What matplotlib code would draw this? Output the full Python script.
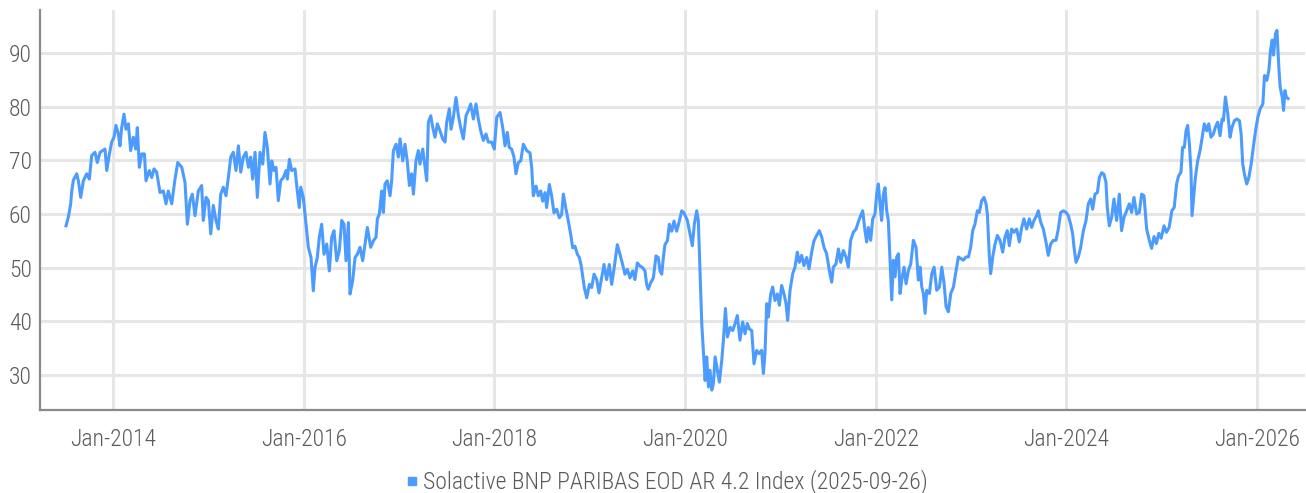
# %% 1.0 Libraries and data

import matplotlib
matplotlib.use('Agg')
import matplotlib.pyplot as plt
from matplotlib.lines import Line2D

plt.rcParams['font.family'] = ['Roboto Condensed', 'Roboto', 'DejaVu Sans']
plt.rcParams['font.weight'] = 'light'

series_name = 'Solactive BNP PARIBAS EOD AR 4.2 Index (2025-09-26)'
tick_years = [2014, 2016, 2018, 2020, 2022, 2024, 2026]
tick_labels = ['Jan-' + str(y) for y in tick_years]
y_ticks = [30, 40, 50, 60, 70, 80, 90]

# decimal year / index level
t_year = [
    2013.507, 2013.531, 2013.556, 2013.567, 2013.584, 2013.619, 2013.636, 2013.661, 2013.689, 2013.724,
    2013.752, 2013.776, 2013.811, 2013.835, 2013.864, 2013.898, 2013.916, 2013.934, 2013.962, 2013.986,
    2014.010, 2014.031, 2014.056, 2014.073, 2014.091, 2014.115, 2014.136, 2014.161, 2014.185, 2014.213,
    2014.238, 2014.255, 2014.276, 2014.301, 2014.329, 2014.346, 2014.381, 2014.406, 2014.430, 2014.458,
    2014.493, 2014.528, 2014.556, 2014.580, 2014.616, 2014.650, 2014.679, 2014.721, 2014.755, 2014.780,
    2014.808, 2014.832, 2014.860, 2014.895, 2014.930,
    2014.947, 2014.976, 2015.000, 2015.025, 2015.052, 2015.080, 2015.105, 2015.130, 2015.157, 2015.185,
    2015.210, 2015.235, 2015.262, 2015.290, 2015.315, 2015.340, 2015.367, 2015.395, 2015.420, 2015.444,
    2015.465, 2015.490, 2015.514, 2015.542, 2015.570, 2015.594, 2015.619, 2015.647, 2015.665, 2015.689,
    2015.710, 2015.734, 2015.759, 2015.787, 2015.815, 2015.829, 2015.850, 2015.874, 2015.909, 2015.933,
    2015.954, 2015.969, 2015.996, 2016.025, 2016.049, 2016.077, 2016.101, 2016.119, 2016.143, 2016.164,
    2016.189, 2016.213, 2016.242, 2016.269, 2016.294, 2016.318, 2016.347, 2016.374, 2016.399, 2016.423,
    2016.444, 2016.469, 2016.486, 2016.514, 2016.539, 2016.563, 2016.591, 2016.619, 2016.643, 2016.668,
    2016.703, 2016.731, 2016.759, 2016.773, 2016.794, 2016.818, 2016.836, 2016.853, 2016.877, 2016.906,
    2016.923, 2016.941, 2016.969, 2016.993, 2017.011, 2017.039, 2017.063, 2017.088, 2017.109, 2017.133,
    2017.151, 2017.178, 2017.203, 2017.220, 2017.249, 2017.273, 2017.291, 2017.308, 2017.333, 2017.354,
    2017.378, 2017.402, 2017.430, 2017.458, 2017.483, 2017.500, 2017.528, 2017.546, 2017.570, 2017.598,
    2017.623, 2017.647, 2017.675, 2017.703, 2017.728, 2017.752, 2017.780, 2017.808, 2017.832, 2017.857,
    2017.885, 2017.913, 2017.937, 2017.972, 2018.000, 2018.025, 2018.060, 2018.088, 2018.112, 2018.136,
    2018.157, 2018.182, 2018.206, 2018.227, 2018.252, 2018.277, 2018.304, 2018.340,
    2018.374, 2018.392, 2018.409, 2018.437, 2018.461, 2018.486, 2018.507, 2018.532, 2018.549, 2018.577,
    2018.601, 2018.626, 2018.654, 2018.682, 2018.706, 2018.724, 2018.752, 2018.776, 2018.801, 2018.822,
    2018.846, 2018.871, 2018.892, 2018.909, 2018.927, 2018.944, 2018.969, 2018.997, 2019.021, 2019.046,
    2019.074, 2019.098, 2019.126, 2019.150, 2019.178, 2019.206, 2019.231, 2019.255, 2019.290, 2019.318,
    2019.346, 2019.370, 2019.395, 2019.423, 2019.451, 2019.475, 2019.500, 2019.528, 2019.556, 2019.580,
    2019.598, 2019.615, 2019.640, 2019.668, 2019.696, 2019.720, 2019.738, 2019.756, 2019.773, 2019.790,
    2019.815, 2019.836, 2019.861, 2019.885, 2019.913, 2019.941, 2019.966, 2019.990,
    2020.025, 2020.053, 2020.077, 2020.098, 2020.123, 2020.140, 2020.158, 2020.176, 2020.193, 2020.211,
    2020.228, 2020.246, 2020.263, 2020.281, 2020.298, 2020.316, 2020.340, 2020.361, 2020.386, 2020.403,
    2020.424, 2020.445, 2020.473, 2020.501, 2020.525, 2020.549, 2020.577, 2020.605, 2020.630, 2020.654,
    2020.675, 2020.700, 2020.724, 2020.752, 2020.776, 2020.804, 2020.822, 2020.839, 2020.857, 2020.874,
    2020.899, 2020.920, 2020.944, 2020.969, 2020.990, 2021.014, 2021.039, 2021.060, 2021.077, 2021.102,
    2021.130, 2021.154, 2021.178, 2021.199, 2021.224, 2021.248, 2021.276, 2021.301, 2021.329, 2021.353,
    2021.381, 2021.409, 2021.434, 2021.458, 2021.486, 2021.514,
    2021.539, 2021.556, 2021.584, 2021.609, 2021.634, 2021.661, 2021.689, 2021.713, 2021.738, 2021.766,
    2021.794, 2021.818, 2021.836, 2021.864, 2021.888, 2021.906, 2021.923, 2021.948, 2021.969, 2021.993,
    2022.011, 2022.028, 2022.046, 2022.063, 2022.081, 2022.098, 2022.116, 2022.133, 2022.151, 2022.169,
    2022.186, 2022.204, 2022.221, 2022.239, 2022.256, 2022.274, 2022.298, 2022.319, 2022.344, 2022.368,
    2022.396, 2022.424, 2022.448, 2022.466, 2022.484, 2022.501, 2022.519, 2022.536, 2022.564, 2022.589,
    2022.613, 2022.641, 2022.669, 2022.694, 2022.718, 2022.739, 2022.763, 2022.788, 2022.816, 2022.844,
    2022.868, 2022.893, 2022.920, 2022.948, 2022.973, 2022.997, 2023.018, 2023.042, 2023.067, 2023.088,
    2023.112, 2023.137, 2023.158,
    2023.172, 2023.193, 2023.207, 2023.228, 2023.252, 2023.277, 2023.305, 2023.333, 2023.357, 2023.381,
    2023.402, 2023.427, 2023.451, 2023.479, 2023.507, 2023.532, 2023.556, 2023.584, 2023.612, 2023.637,
    2023.661, 2023.689, 2023.706, 2023.731, 2023.759, 2023.787, 2023.811, 2023.836, 2023.864, 2023.892,
    2023.916, 2023.941, 2023.969, 2023.997, 2024.021, 2024.046, 2024.067, 2024.081, 2024.102, 2024.126,
    2024.151, 2024.179, 2024.207, 2024.231, 2024.256, 2024.277, 2024.301, 2024.326, 2024.347, 2024.371,
    2024.395, 2024.416, 2024.430, 2024.451, 2024.476, 2024.500, 2024.528, 2024.556, 2024.580, 2024.605,
    2024.633, 2024.661, 2024.685, 2024.710, 2024.738, 2024.766, 2024.790, 2024.815, 2024.843, 2024.871,
    2024.895, 2024.920, 2024.945, 2024.970, 2024.995, 2025.025, 2025.050,
    2025.079, 2025.107, 2025.132, 2025.157, 2025.178, 2025.203, 2025.220, 2025.238, 2025.256, 2025.273,
    2025.291, 2025.308, 2025.319, 2025.333, 2025.354, 2025.378, 2025.403, 2025.431, 2025.448, 2025.473,
    2025.494, 2025.518, 2025.543, 2025.564, 2025.588, 2025.613, 2025.634, 2025.648, 2025.669, 2025.694,
    2025.718, 2025.739, 2025.764, 2025.788, 2025.816, 2025.834, 2025.851, 2025.869, 2025.893, 2025.915,
    2025.939, 2025.957, 2025.985, 2026.009, 2026.034, 2026.062, 2026.079, 2026.104, 2026.125, 2026.142,
    2026.160, 2026.174, 2026.195, 2026.210, 2026.231, 2026.244, 2026.265, 2026.279, 2026.294, 2026.308,
    2026.326,
]

level = [
    57.8, 59.4, 61.9, 64.3, 66.3, 67.5, 66.2, 63.1, 66.2, 67.5,
    66.5, 70.9, 71.5, 69.6, 71.5, 71.9, 72.1, 68.1, 71.2, 73.4,
    74.3, 76.5, 74.9, 72.7, 76.1, 78.6, 75.8, 76.8, 71.8, 74.3,
    72.1, 76.1, 68.7, 71.2, 71.2, 66.2, 68.1, 66.8, 68.4, 67.8,
    64.0, 64.3, 61.9, 64.3, 61.9, 66.5, 69.6, 68.7, 65.9, 58.1,
    62.5, 63.7, 59.7, 64.3, 65.3,
    58.8, 63.1, 62.5, 56.3, 61.6, 58.8, 57.2, 63.7, 65.0, 63.4,
    66.8, 70.6, 71.5, 68.1, 72.7, 67.8, 70.6, 71.5, 68.7, 70.6,
    66.5, 71.5, 63.1, 71.5, 69.3, 75.2, 72.4, 65.6, 69.9, 68.1,
    68.7, 62.5, 66.2, 66.8, 68.1, 66.5, 70.2, 68.1, 68.4, 64.3,
    61.2, 65.0, 63.1, 58.1, 53.8, 51.9, 45.7, 50.1, 51.9, 55.7,
    58.1, 52.5, 54.4, 49.4, 55.7, 56.9, 51.3, 53.2, 58.8, 58.1,
    51.3, 58.4, 45.1, 47.6, 51.9, 52.5, 53.8, 51.3, 54.4, 57.5,
    53.8, 55.0, 55.7, 59.1, 60.0, 64.3, 60.3, 65.6, 66.2, 63.4,
    66.2, 71.8, 73.0, 70.6, 74.0, 69.9, 73.0, 69.6, 65.3, 67.5,
    63.7, 69.9, 71.8, 69.3, 72.1, 68.7, 66.2, 77.1, 78.3, 76.1,
    74.3, 76.8, 75.5, 74.0, 73.4, 77.1, 79.6, 75.8, 78.0, 81.7,
    78.3, 76.1, 74.0, 78.3, 79.3, 80.5, 77.7, 80.5, 77.7, 75.5,
    73.7, 74.9, 73.4, 73.4, 72.1, 78.0, 78.9, 76.1, 72.7, 75.2,
    72.4, 72.1, 70.6, 67.5, 69.6, 69.9, 73.0, 71.8,
    71.4, 68.6, 63.4, 65.2, 63.4, 64.3, 62.4, 64.0, 61.2, 65.5,
    63.4, 60.2, 60.9, 59.3, 59.9, 63.7, 60.9, 58.7, 56.2, 53.7,
    54.0, 52.5, 51.9, 50.6, 48.4, 46.3, 44.4, 46.9, 46.3, 48.8,
    47.8, 45.3, 48.1, 50.6, 47.8, 50.6, 46.9, 49.7, 54.3, 52.5,
    50.6, 48.8, 49.7, 48.1, 49.4, 47.8, 50.9, 50.3, 50.0, 49.4,
    46.9, 46.0, 47.2, 48.1, 52.2, 51.9, 49.4, 48.8, 51.9, 54.3,
    55.0, 58.1, 56.8, 58.7, 56.8, 58.7, 60.6, 60.2,
    58.8, 56.3, 54.1, 58.1, 60.6, 58.8, 48.9, 39.6, 34.6, 29.0,
    33.4, 27.8, 30.9, 27.2, 28.4, 33.4, 30.9, 28.7, 32.8, 36.5,
    42.4, 37.1, 38.9, 38.3, 39.6, 41.1, 36.5, 39.9, 37.7, 39.6,
    38.6, 38.3, 32.1, 34.6, 34.0, 34.6, 30.3, 34.0, 43.3, 40.8,
    45.1, 46.4, 43.9, 45.1, 43.0, 46.7, 45.1, 43.3, 40.2, 45.8,
    48.9, 50.1, 52.9, 51.0, 52.3, 50.4, 51.9, 49.8, 52.9, 55.0,
    56.0, 56.9, 55.7, 53.8, 52.6, 49.5,
    47.3, 50.1, 50.7, 53.5, 51.0, 53.2, 52.0, 50.1, 55.1, 56.6,
    57.2, 58.5, 59.4, 60.6, 56.9, 54.8, 57.5, 55.1, 59.1, 60.0,
    63.7, 65.6, 61.9, 58.8, 63.7, 64.9, 60.6, 58.8, 51.4, 44.0,
    51.4, 48.3, 52.0, 52.6, 45.2, 47.7, 50.1, 47.0, 49.5, 50.7,
    55.1, 53.8, 47.7, 50.1, 46.4, 45.2, 41.5, 45.8, 45.2, 48.9,
    50.1, 45.8, 46.4, 50.1, 47.0, 42.7, 41.8, 45.2, 46.4, 49.5,
    52.0, 51.7, 51.4, 52.0, 52.0, 53.8, 56.9, 58.1, 60.6, 60.3,
    62.5, 63.1, 61.9,
    60.0, 52.0, 48.9, 52.0, 54.4, 56.0, 55.1, 52.9, 55.7, 56.9,
    54.1, 57.2, 56.6, 57.2, 54.8, 57.5, 59.1, 57.2, 59.1, 57.5,
    58.8, 59.7, 60.6, 58.5, 57.2, 54.8, 52.3, 54.4, 55.1, 55.1,
    57.2, 60.3, 60.6, 60.3, 59.7, 58.1, 56.3, 53.8, 51.0, 52.0,
    53.8, 56.9, 58.8, 61.9, 62.8, 60.9, 63.7, 64.0, 66.8, 67.7,
    67.4, 65.9, 61.2, 57.8, 59.4, 62.8, 58.8, 63.7, 56.9, 59.4,
    60.6, 61.9, 60.3, 63.1, 60.0, 60.3, 63.7, 63.4, 57.2, 55.1,
    53.6, 55.8, 54.5, 56.4, 55.5, 57.8, 56.6,
    57.5, 60.6, 61.2, 65.6, 67.1, 67.8, 72.4, 72.4, 75.5, 76.5,
    73.1, 68.1, 59.7, 62.5, 66.8, 69.9, 71.8, 74.9, 76.8, 75.5,
    76.8, 74.3, 74.9, 76.2, 77.1, 74.6, 77.7, 77.4, 81.8, 78.7,
    74.3, 76.2, 77.4, 77.7, 77.4, 74.9, 69.3, 67.4, 65.6, 66.8,
    69.3, 71.8, 75.5, 78.0, 79.6, 80.5, 85.8, 84.9, 86.8, 90.5,
    92.4, 89.6, 93.6, 94.2, 86.8, 83.6, 81.8, 79.3, 83.0, 81.8,
    81.5,
]

# %% 2.0 Plot

line_color = '#4c9bff'
grid_color = '#e6e6e6'
text_color = '#5a5a5a'

fig = plt.figure(figsize=(13.06, 4.93), dpi=100)
ax = fig.add_axes([40 / 1306, 83 / 493, 1265 / 1306, 400 / 493])

ax.plot(t_year, level, color=line_color, linewidth=2.2, solid_joinstyle='round', zorder=3)

ax.set_xlim(2013.234, 2026.504)
ax.set_ylim(23.5, 98.0)
ax.set_xticks(tick_years)
ax.set_xticklabels(tick_labels)
ax.set_yticks(y_ticks)

ax.grid(True, color=grid_color, linewidth=2.2, zorder=0)
ax.set_axisbelow(True)
ax.tick_params(axis='both', length=0, labelsize=17, labelcolor=text_color)
ax.tick_params(axis='x', pad=13)
ax.tick_params(axis='y', pad=6)

for side in ['top', 'right']:
    ax.spines[side].set_visible(False)
for side in ['left', 'bottom']:
    ax.spines[side].set_color('#8a8a8a')
    ax.spines[side].set_linewidth(1.6)

handle = Line2D([], [], linestyle='none', marker='s', markersize=6,
                markerfacecolor=line_color, markeredgecolor=line_color)
fig.legend([handle], [series_name], loc='center', bbox_to_anchor=(667 / 1306, 1 - 482 / 493),
           frameon=False, fontsize=17, labelcolor=text_color,
           handlelength=0.5, handletextpad=0.2, borderpad=0)

fig.savefig('out.png', dpi=100)
